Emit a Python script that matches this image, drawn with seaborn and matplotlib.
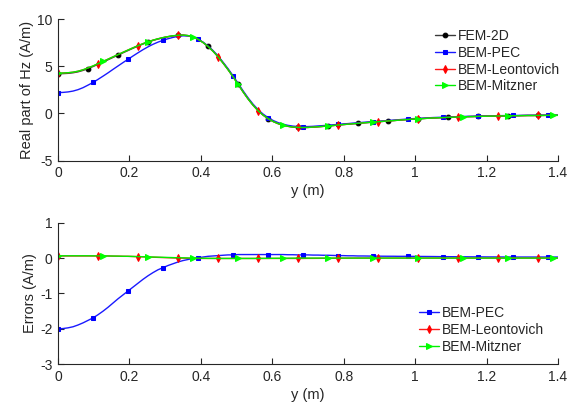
import matplotlib
matplotlib.use("Agg")
import matplotlib.pyplot as plt
import numpy as np
import pandas as pd
import seaborn as sns

sns.set_style("ticks")
plt.rcParams['font.family'] = ['Liberation Sans', 'DejaVu Sans']

# position along y (m), 101 samples 0:0.014:1.4
y_m = np.linspace(0, 1.4, 101)

# FEM-2D reference, real part of Hz (A/m)
hz_fem = [4.20, 4.21, 4.24, 4.30, 4.40, 4.55, 4.75, 4.96, 5.20, 5.44,
          5.68, 5.93, 6.17, 6.42, 6.66, 6.90, 7.13, 7.35, 7.55, 7.73,
          7.88, 8.01, 8.12, 8.21, 8.27, 8.29, 8.24, 8.10, 7.86, 7.52,
          7.10, 6.60, 6.02, 5.35, 4.65, 3.90, 3.10, 2.30, 1.55, 0.88,
          0.30, -0.17, -0.55, -0.85, -1.08, -1.25, -1.37, -1.45, -1.49, -1.50,
          -1.49, -1.46, -1.42, -1.38, -1.34, -1.29, -1.24, -1.19, -1.15, -1.10,
          -1.06, -1.01, -0.97, -0.93, -0.89, -0.85, -0.81, -0.77, -0.73, -0.69,
          -0.65, -0.61, -0.58, -0.55, -0.52, -0.49, -0.47, -0.45, -0.43, -0.41,
          -0.39, -0.37, -0.35, -0.34, -0.32, -0.31, -0.30, -0.29, -0.28, -0.27,
          -0.26, -0.25, -0.25, -0.24, -0.23, -0.23, -0.22, -0.22, -0.21, -0.21,
          -0.21]

# errors with respect to FEM-2D (A/m)
err_pec = [-2.00, -1.99, -1.97, -1.94, -1.89, -1.83, -1.76, -1.69, -1.60, -1.50,
           -1.39, -1.27, -1.15, -1.04, -0.93, -0.82, -0.71, -0.60, -0.50, -0.41,
           -0.33, -0.27, -0.21, -0.16, -0.11, -0.07, -0.04, -0.01, 0.01, 0.03,
           0.05, 0.06, 0.07, 0.08, 0.09, 0.09, 0.10, 0.10, 0.10, 0.10,
           0.10, 0.10, 0.10, 0.10, 0.10, 0.10, 0.095, 0.095, 0.09, 0.09,
           0.09, 0.085, 0.085, 0.08, 0.08, 0.075, 0.07, 0.07, 0.065, 0.065,
           0.06, 0.06, 0.058, 0.055, 0.055, 0.053, 0.052, 0.052, 0.05, 0.05,
           0.05, 0.048, 0.047, 0.046, 0.045, 0.044, 0.042, 0.04, 0.04, 0.039,
           0.038, 0.037, 0.036, 0.035, 0.035, 0.034, 0.033, 0.033, 0.032, 0.031,
           0.031, 0.03, 0.03, 0.03, 0.03, 0.03, 0.03, 0.03, 0.03, 0.03,
           0.03]
err_leon = [0.06, 0.06, 0.06, 0.06, 0.06, 0.06, 0.06, 0.06, 0.06, 0.06,
            0.06, 0.055, 0.055, 0.05, 0.05, 0.045, 0.04, 0.035, 0.03, 0.025,
            0.02, 0.015, 0.01, 0.005, 0.0, 0.0, -0.005, -0.005, -0.01, -0.01,
            -0.01, -0.01, -0.01, -0.01, -0.01, -0.01, -0.01, -0.01, -0.01, -0.01,
            -0.01, -0.01, -0.01, -0.01, -0.01, -0.01, -0.01, -0.01, -0.01, -0.01,
            -0.008, -0.008, -0.007, -0.006, -0.005, -0.005, -0.004, -0.003, -0.002, -0.001,
            0.0, 0.0, 0.0, 0.0, 0.0, 0.0, 0.0, 0.0, 0.0, 0.0,
            0.0, 0.0, 0.0, 0.0, 0.0, 0.0, 0.0, 0.0, 0.0, 0.0,
            0.0, 0.0, 0.0, 0.0, 0.0, 0.0, 0.0, 0.0, 0.0, 0.0,
            0.0, 0.0, 0.0, 0.0, 0.0, 0.0, 0.0, 0.0, 0.0, 0.0,
            0.0]
err_mitz = [0.065, 0.065, 0.065, 0.065, 0.065, 0.065, 0.065, 0.063, 0.062, 0.06,
            0.06, 0.058, 0.055, 0.052, 0.05, 0.046, 0.042, 0.038, 0.034, 0.03,
            0.026, 0.022, 0.018, 0.014, 0.01, 0.007, 0.004, 0.0, -0.003, -0.005,
            -0.007, -0.008, -0.009, -0.01, -0.01, -0.01, -0.01, -0.01, -0.01, -0.01,
            -0.009, -0.008, -0.007, -0.006, -0.005, -0.004, -0.003, -0.002, -0.001, 0.0,
            0.0, 0.0, 0.0, 0.0, 0.0, 0.0, 0.0, 0.0, 0.0, 0.0,
            0.0, 0.0, 0.0, 0.0, 0.0, 0.0, 0.0, 0.0, 0.0, 0.0,
            0.0, 0.0, 0.0, 0.0, 0.0, 0.0, 0.0, 0.0, 0.0, 0.0,
            0.0, 0.0, 0.0, 0.0, 0.0, 0.0, 0.0, 0.0, 0.0, 0.0,
            0.0, 0.0, 0.0, 0.0, 0.0, 0.0, 0.0, 0.0, 0.0, 0.0,
            0.0]

hz_fem = np.array(hz_fem)
hz_pec = hz_fem + np.array(err_pec)
hz_leon = hz_fem + np.array(err_leon)
hz_mitz = hz_fem + np.array(err_mitz)

# name: line colour, marker colour, marker, marker size, marker step
styles = {
    'FEM-2D': ('#3a3a3a', '#000000', 'o', 3.4, 6),
    'BEM-PEC': ('#1a1aff', '#0000ff', 's', 3.0, 7),
    'BEM-Leontovich': ('#ff1a1a', '#ff0000', 'd', 4.0, 8),
    'BEM-Mitzner': ('#00ee00', '#00ff00', '>', 4.0, 9),
}


def draw(ax, name, vals):
    lc, mc, mk, ms, step = styles[name]
    df = pd.DataFrame({'y': y_m, 'v': vals})
    sns.lineplot(data=df, x='y', y='v', ax=ax, color=lc, lw=1.0, marker=mk,
                 markersize=ms, markerfacecolor=mc, markeredgecolor=mc,
                 markevery=step, label=name, sort=False, estimator=None)


def style_axis(ax, ylim, yticks, ylabel):
    ax.set_xlim(0, 1.4)
    ax.set_ylim(*ylim)
    ax.set_xticks([0, 0.2, 0.4, 0.6, 0.8, 1, 1.2, 1.4])
    ax.set_xticklabels(['0', '0.2', '0.4', '0.6', '0.8', '1', '1.2', '1.4'])
    ax.set_yticks(yticks)
    ax.set_yticklabels([str(t) for t in yticks])
    ax.tick_params(direction='in', length=4, width=0.8, colors='#262626',
                   labelsize=10, pad=4)
    for s in ['top', 'right']:
        ax.spines[s].set_visible(False)
    for s in ['left', 'bottom']:
        ax.spines[s].set_color('#262626')
        ax.spines[s].set_linewidth(0.8)
    ax.set_xlabel('y (m)', fontsize=10.5, color='#262626', labelpad=3)
    ax.set_ylabel(ylabel, fontsize=10.5, color='#262626', labelpad=2)


fig = plt.figure(figsize=(5.87, 4.08), dpi=100)
ax1 = fig.add_axes([0.0988, 0.6066, 0.8518, 0.3468])
ax2 = fig.add_axes([0.0988, 0.1071, 0.8518, 0.3471])

draw(ax1, 'FEM-2D', hz_fem)
draw(ax1, 'BEM-PEC', hz_pec)
draw(ax1, 'BEM-Leontovich', hz_leon)
draw(ax1, 'BEM-Mitzner', hz_mitz)
style_axis(ax1, (-5, 10), [-5, 0, 5, 10], 'Real part of Hz (A/m)')

draw(ax2, 'BEM-PEC', err_pec)
draw(ax2, 'BEM-Leontovich', err_leon)
draw(ax2, 'BEM-Mitzner', err_mitz)
style_axis(ax2, (-3, 1), [-3, -2, -1, 0, 1], 'Errors (A/m)')

ax1.legend(loc='upper left', bbox_to_anchor=(0.741, 0.929), bbox_transform=fig.transFigure,
           frameon=False, fontsize=10, handlelength=1.45, handletextpad=0.2,
           labelspacing=0.2, borderpad=0, borderaxespad=0)
ax2.legend(loc='upper left', bbox_to_anchor=(0.714, 0.25), bbox_transform=fig.transFigure,
           frameon=False, fontsize=10, handlelength=1.45, handletextpad=0.2,
           labelspacing=0.2, borderpad=0, borderaxespad=0)

fig.savefig('out.png', dpi=100)
